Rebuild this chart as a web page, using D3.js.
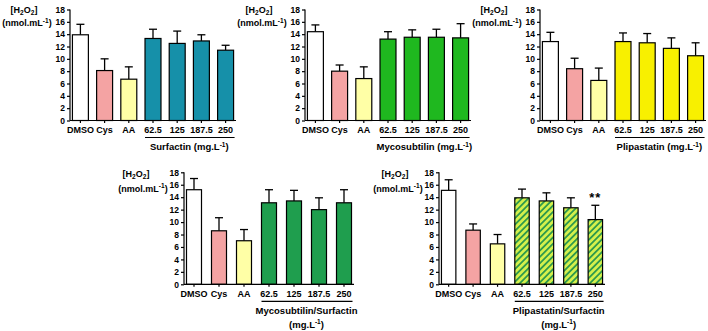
<!DOCTYPE html>
<html>
<head>
<meta charset="utf-8">
<script src="https://cdn.jsdelivr.net/npm/d3@7"></script>
<style>
  body { margin: 0; background: #fff; }
  svg text { font-family: "Liberation Sans", Arial, sans-serif; font-weight: bold; fill: #000; }
</style>
</head>
<body>
<div id="chart"></div>
<script>
// H2O2 levels, five panels (mean + SD)

let categories = ["DMSO", "Cys", "AA", "62.5", "125", "187.5", "250"];
let yTicks = [0, 2, 4, 6, 8, 10, 12, 14, 16, 18];

let surfMean   = [13.9, 8.1, 6.7, 13.3, 12.5, 12.9, 11.4];
let surfErr    = [1.7, 1.9, 2.0, 1.5, 2.0, 1.0, 0.8];
let mycoMean   = [14.4, 8.0, 6.8, 13.2, 13.5, 13.5, 13.4];
let mycoErr    = [1.1, 1.0, 1.9, 1.2, 1.2, 1.3, 2.3];
let pliMean    = [12.8, 8.4, 6.5, 12.8, 12.6, 11.7, 10.5];
let pliErr     = [1.5, 1.7, 2.0, 1.4, 1.5, 1.7, 2.1];
let mycoSurfMean = [15.2, 8.6, 7.0, 13.1, 13.4, 12.0, 13.1];
let mycoSurfErr  = [1.8, 2.1, 1.8, 2.1, 1.7, 1.9, 2.1];
let pliSurfMean  = [15.1, 8.7, 6.5, 13.9, 13.4, 12.3, 10.4];
let pliSurfErr   = [1.7, 1.0, 1.5, 1.4, 1.3, 1.6, 2.3];

let groupLabels = ["Surfactin (mg.L", "Mycosubtilin (mg.L", "Plipastatin (mg.L",
                   "Mycosubtilin/Surfactin", "Plipastatin/Surfactin"];

let width = 708, height = 331;

let svg = d3.select("#chart").append("svg")
  .attr("width", width).attr("height", height);

// hatch for the plipastatin/surfactin bars
let pat = svg.append("defs").append("pattern")
  .attr("id", "hatch")
  .attr("patternUnits", "userSpaceOnUse")
  .attr("width", 4.5).attr("height", 4.5)
  .attr("patternTransform", "rotate(45)");
pat.append("rect").attr("width", 4.5).attr("height", 4.5).attr("fill", "#d4f04c");
pat.append("rect").attr("width", 1.8).attr("height", 4.5).attr("fill", "#2f9a4c");

function makePanel(cfg) {
  let g = svg.append("g");

  let x = d3.scaleBand()
    .domain(categories)
    .range([cfg.axisX, cfg.axisX + cfg.span])
    .paddingInner(cfg.padIn)
    .paddingOuter(0.1);

  let y = d3.scaleLinear()
    .domain([0, 18])
    .range([cfg.yBottom, cfg.yTop]);

  let fills = ["#ffffff", "#f4a3a3", "#ffffa6", cfg.color, cfg.color, cfg.color, cfg.color];

  // error bars (upper only)
  let eb = g.append("g").attr("stroke", "#000").attr("stroke-width", 1.3);
  eb.selectAll("line.v")
    .data(cfg.mean)
    .enter()
    .append("line")
    .attr("x1", function(d, i) { return x(categories[i]) + x.bandwidth() / 2; })
    .attr("x2", function(d, i) { return x(categories[i]) + x.bandwidth() / 2; })
    .attr("y1", function(d) { return y(d); })
    .attr("y2", function(d, i) { return y(d + cfg.err[i]); });
  eb.selectAll("line.c")
    .data(cfg.mean)
    .enter()
    .append("line")
    .attr("x1", function(d, i) { return x(categories[i]) + x.bandwidth() / 2 - 4; })
    .attr("x2", function(d, i) { return x(categories[i]) + x.bandwidth() / 2 + 4; })
    .attr("y1", function(d, i) { return y(d + cfg.err[i]); })
    .attr("y2", function(d, i) { return y(d + cfg.err[i]); });

  g.append("g")
    .selectAll("rect")
    .data(cfg.mean)
    .enter()
    .append("rect")
    .attr("x", function(d, i) { return x(categories[i]); })
    .attr("y", function(d) { return y(d); })
    .attr("width", x.bandwidth())
    .attr("height", function(d) { return y(0) - y(d); })
    .attr("fill", function(d, i) { return fills[i]; })
    .attr("stroke", "#000")
    .attr("stroke-width", 1.2);

  // y axis
  let yAxis = d3.axisLeft(y).tickValues(yTicks).tickSize(3).tickPadding(2);
  let ya = g.append("g")
    .attr("transform", "translate(" + cfg.axisX + ",0)")
    .call(yAxis);
  ya.selectAll("text").style("font-size", "8.5px").style("font-family", "Liberation Sans").style("font-weight", "bold");
  ya.selectAll("path, line").attr("stroke", "#000").attr("stroke-width", 1.2);
  ya.select("path").attr("d", "M0," + cfg.yTop + "V" + cfg.yBottom);

  // x axis
  let xAxis = d3.axisBottom(x).tickSize(2.5).tickPadding(4);
  let xa = g.append("g")
    .attr("transform", "translate(0," + cfg.yBottom + ")")
    .call(xAxis);
  xa.selectAll("text").style("font-size", "9px").style("font-family", "Liberation Sans").style("font-weight", "bold");
  xa.selectAll("path, line").attr("stroke", "#000").attr("stroke-width", 1.2);
  xa.select("path").attr("d", "M" + cfg.axisX + ",0H" + (cfg.axisX + cfg.span));

  // y title
  let t1 = g.append("text")
    .attr("x", cfg.axisX + cfg.lab1dx).attr("y", cfg.lab1y)
    .attr("text-anchor", "middle").style("font-size", "9px");
  t1.append("tspan").text("[H");
  t1.append("tspan").text("2").attr("dy", 2.5).style("font-size", "6.5px");
  t1.append("tspan").text("O").attr("dy", -2.5);
  t1.append("tspan").text("2").attr("dy", 2.5).style("font-size", "6.5px");
  t1.append("tspan").text("]").attr("dy", -2.5);

  let t2 = g.append("text")
    .attr("x", cfg.axisX + cfg.lab2dx).attr("y", cfg.lab2y)
    .attr("text-anchor", "middle").style("font-size", "9px");
  t2.append("tspan").text("(nmol.mL");
  t2.append("tspan").text("-1").attr("dy", -3.5).style("font-size", "6.5px");
  t2.append("tspan").text(")").attr("dy", 3.5);

  // group underline + title
  let gx0 = x("62.5");
  let gx1 = x("250") + x.bandwidth();
  g.append("line")
    .attr("x1", gx0).attr("x2", gx1 + 1)
    .attr("y1", cfg.yBottom + 17).attr("y2", cfg.yBottom + 17)
    .attr("stroke", "#000").attr("stroke-width", 1.2);

  let gc = (gx0 + gx1) / 2;
  let gt = g.append("text")
    .attr("x", gc).attr("y", cfg.yBottom + 29.5)
    .attr("text-anchor", "middle").style("font-size", "9.5px");
  if (cfg.twoLine) {
    gt.text(cfg.group);
    let gt2 = g.append("text")
      .attr("x", gc).attr("y", cfg.yBottom + 43.5)
      .attr("text-anchor", "middle").style("font-size", "9.5px");
    gt2.append("tspan").text("(mg.L");
    gt2.append("tspan").text("-1").attr("dy", -3.5).style("font-size", "6.5px");
    gt2.append("tspan").text(")").attr("dy", 3.5);
  } else {
    gt.append("tspan").text(cfg.group);
    gt.append("tspan").text("-1").attr("dy", -3.5).style("font-size", "6.5px");
    gt.append("tspan").text(")").attr("dy", 3.5);
  }

  return { x: x, y: y, g: g };
}

makePanel({ axisX: 70, span: 166, padIn: 0.34, yTop: 9.5, yBottom: 120.5,
  mean: surfMean, err: surfErr, color: "#1690a9", group: groupLabels[0],
  lab1dx: -46, lab1y: 12.5, lab2dx: -43, lab2y: 26 });
makePanel({ axisX: 305, span: 166, padIn: 0.34, yTop: 9.5, yBottom: 120.5,
  mean: mycoMean, err: mycoErr, color: "#1fb81f", group: groupLabels[1],
  lab1dx: -46, lab1y: 12.5, lab2dx: -43, lab2y: 26 });
makePanel({ axisX: 540, span: 166, padIn: 0.34, yTop: 9.5, yBottom: 120.5,
  mean: pliMean, err: pliErr, color: "#f8f000", group: groupLabels[2],
  lab1dx: -46, lab1y: 12.5, lab2dx: -43, lab2y: 26 });
makePanel({ axisX: 184, span: 170, padIn: 0.4, yTop: 172.3, yBottom: 284.3,
  mean: mycoSurfMean, err: mycoSurfErr, color: "#1f9e4e", group: groupLabels[3], twoLine: true,
  lab1dx: -48, lab1y: 176.5, lab2dx: -41, lab2y: 191.5 });
let p5 = makePanel({ axisX: 439, span: 166, padIn: 0.41, yTop: 172.3, yBottom: 284.3,
  mean: pliSurfMean, err: pliSurfErr, color: "url(#hatch)", group: groupLabels[4], twoLine: true,
  lab1dx: -44, lab1y: 176.5, lab2dx: -41, lab2y: 191.5 });

// significance mark
p5.g.append("text")
  .attr("x", p5.x("250") + p5.x.bandwidth() / 2)
  .attr("y", p5.y(pliSurfMean[6] + pliSurfErr[6]) + -3)
  .attr("text-anchor", "middle")
  .style("font-size", "13px")
  .style("letter-spacing", "1px")
  .text("**");
</script>
</body>
</html>
